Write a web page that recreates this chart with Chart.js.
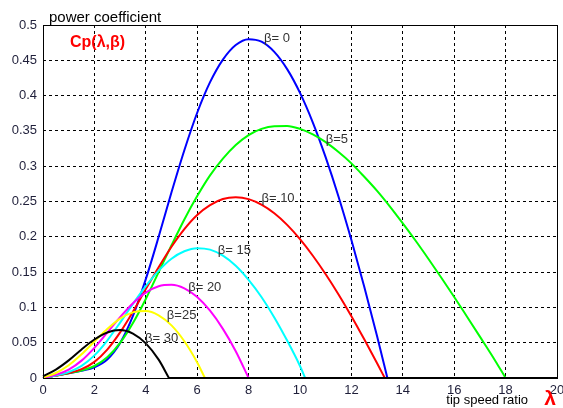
<!DOCTYPE html>
<html>
<head>
<meta charset="utf-8">
<script src="https://cdn.jsdelivr.net/npm/chart.js@4"></script>
<style>
  html, body { margin: 0; padding: 0; background: #fff; }
</style>
</head>
<body>
<canvas id="cpChart" width="563" height="408"></canvas>
<script>
// grid of tip speed ratios the curves were read on (step 0.5)
const lambda = [0, 0.5, 1, 1.5, 2, 2.5, 3, 3.5, 4, 4.5, 5, 5.5, 6, 6.5, 7, 7.5, 8, 8.5, 9, 9.5,
  10, 10.5, 11, 11.5, 12, 12.5, 13, 13.5, 14, 14.5, 15, 15.5, 16, 16.5, 17, 17.5];

const betas = [0, 5, 10, 15, 20, 25, 30];
const colors = ['#0000ff', '#00ff00', '#ff0000', '#00ffff', '#ff00ff', '#ffff00', '#000000'];

// Cp values per pitch angle (first values on the lambda grid)
const cpBeta0 = [0, 0.0034, 0.0068, 0.0103, 0.0151, 0.0261, 0.0495, 0.088, 0.140, 0.200, 0.263, 0.3226,
  0.3757, 0.419, 0.451, 0.4717, 0.4799, 0.4764, 0.462, 0.4375, 0.4038, 0.3618, 0.3124, 0.2568, 0.1954,
  0.1293, 0.059];
const cpBeta5 = [0, 0.0034, 0.0068, 0.0107, 0.017, 0.0293, 0.0497, 0.078, 0.112, 0.150, 0.188, 0.2246,
  0.2577, 0.287, 0.3107, 0.330, 0.344, 0.3528, 0.3567, 0.357, 0.3528, 0.345, 0.334, 0.320, 0.304, 0.285,
  0.265, 0.2428, 0.219, 0.1944, 0.1686, 0.142, 0.1148, 0.0868, 0.0586, 0.0302];
const cpBeta10 = [0, 0.0034, 0.007, 0.0125, 0.0229, 0.0403, 0.0647, 0.094, 0.126, 0.157, 0.186, 0.211,
  0.231, 0.245, 0.2536, 0.256, 0.2534, 0.2456, 0.2333, 0.2169, 0.1967, 0.1732, 0.147, 0.1184, 0.0876,
  0.0548, 0.0208];
const cpBeta15 = [0, 0.0035, 0.0084, 0.0171, 0.032, 0.0531, 0.0784, 0.105, 0.130, 0.152, 0.169, 0.1795,
  0.1839, 0.1818, 0.1733, 0.159, 0.139, 0.1147, 0.0858, 0.053, 0.017];
const cpBeta20 = [0.0001, 0.0044, 0.0119, 0.0246, 0.0427, 0.0642, 0.0862, 0.106, 0.121, 0.130, 0.132,
  0.127, 0.1147, 0.0953, 0.0696, 0.038];
const cpBeta25 = [0.0006, 0.0071, 0.018, 0.0335, 0.0517, 0.0694, 0.0841, 0.093, 0.0949, 0.0888, 0.0745,
  0.052, 0.022];
const cpBeta30 = [0.0026, 0.012, 0.025, 0.0405, 0.0545, 0.0645, 0.0679, 0.063, 0.049, 0.026];

// where each curve reaches Cp = 0 (Cp stays 0 up to lambda = 20 after that)
const zeroAt = [13.4, 18, 13.3, 10.2, 8, 6.3, 4.9];
const cpSeries = [cpBeta0, cpBeta5, cpBeta10, cpBeta15, cpBeta20, cpBeta25, cpBeta30];

// curve labels
const betaLabels = ['\u03b2= 0', '\u03b2=5', '\u03b2= 10', '\u03b2= 15', '\u03b2= 20', '\u03b2=25', '\u03b2= 30'];
const labelLambda = [8.6, 11.0, 8.5, 6.8, 5.65, 4.82, 3.97];
const labelCp = [0.481, 0.338, 0.2545, 0.18, 0.129, 0.0885, 0.0555];

const xMax = 20;

const FONT = '"Liberation Sans", Arial, sans-serif';

function buildPoints(values, zero) {
  const pts = values.map((v, i) => ({ x: lambda[i], y: v }));
  pts.push({ x: zero, y: 0 });
  return pts;
}

const decorations = {
  id: 'decorations',
  afterDatasetsDraw(chart) {
    const { ctx, chartArea: a, scales } = chart;
    const x = scales.x, y = scales.y;
    ctx.save();
    ctx.setLineDash([]);
    ctx.strokeStyle = '#000';
    ctx.lineWidth = 1;
    ctx.strokeRect(Math.round(a.left) + 0.5, Math.round(a.top) + 0.5,
      Math.round(a.width), Math.round(a.height));

    ctx.font = '13px ' + FONT;
    ctx.fillStyle = '#333333';
    ctx.textAlign = 'left';
    ctx.textBaseline = 'middle';
    betaLabels.forEach((t, i) => {
      ctx.fillText(t, x.getPixelForValue(labelLambda[i]), y.getPixelForValue(labelCp[i]));
    });

    // axis captions
    ctx.fillStyle = '#000';
    ctx.font = '15px ' + FONT;
    ctx.textBaseline = 'alphabetic';
    ctx.fillText('power coefficient', a.left + 6, a.top - 3);

    ctx.fillStyle = '#ff0000';
    ctx.font = 'bold 16px ' + FONT;
    ctx.fillText('Cp(\u03bb,\u03b2)', a.left + 27, a.top + 22);

    ctx.fillStyle = '#000';
    ctx.font = '13px ' + FONT;
    ctx.textAlign = 'right';
    ctx.fillText('tip speed ratio', a.right - 29, a.bottom + 26);

    ctx.fillStyle = '#ff0000';
    ctx.font = 'bold 21px ' + FONT;
    ctx.fillText('\u03bb', a.right - 1, a.bottom + 27);
    ctx.restore();
  }
};

const curveSets = betas.map((b, i) => ({
  label: 'beta ' + b,
  data: buildPoints(cpSeries[i], zeroAt[i]),
  borderColor: colors[i],
  borderWidth: 2,
  pointRadius: 0,
  fill: false,
  cubicInterpolationMode: 'monotone',
  clip: false,
  order: betas.length - i
}));

// the clipped part (Cp = 0) of all curves lies along the axis; the last curve is drawn on top
const tailSet = {
  label: 'Cp = 0',
  data: [{ x: zeroAt[zeroAt.length - 1], y: 0 }, { x: xMax, y: 0 }],
  borderColor: colors[colors.length - 1],
  borderWidth: 2,
  pointRadius: 0,
  fill: false,
  clip: false,
  order: 0
};

new Chart(document.getElementById('cpChart'), {
  type: 'line',
  data: { datasets: curveSets.concat([tailSet]) },
  options: {
    responsive: false,
    devicePixelRatio: 1,
    animation: false,
    layout: { padding: { top: 25, right: 6, bottom: 0, left: 0 } },
    plugins: {
      legend: { display: false },
      tooltip: { enabled: false }
    },
    scales: {
      x: {
        type: 'linear',
        min: 0,
        max: xMax,
        afterFit: s => { s.height = 30; s.paddingLeft = 0; s.paddingRight = 0; },
        ticks: { stepSize: 2, color: '#1f1f3a', padding: 5, font: { size: 13, family: FONT } },
        grid: { color: '#000', lineWidth: 1, drawTicks: false },
        border: { display: false, dash: [3, 3] }
      },
      y: {
        min: 0,
        max: 0.5,
        afterFit: s => { s.width = 43; s.paddingTop = 0; s.paddingBottom = 0; },
        ticks: {
          stepSize: 0.05,
          color: '#1f1f3a',
          padding: 6,
          font: { size: 13, family: FONT },
          callback: v => String(Number(v.toFixed(2)))
        },
        grid: { color: '#000', lineWidth: 1, drawTicks: false },
        border: { display: false, dash: [3, 3] }
      }
    }
  },
  plugins: [decorations]
});
</script>
</body>
</html>
